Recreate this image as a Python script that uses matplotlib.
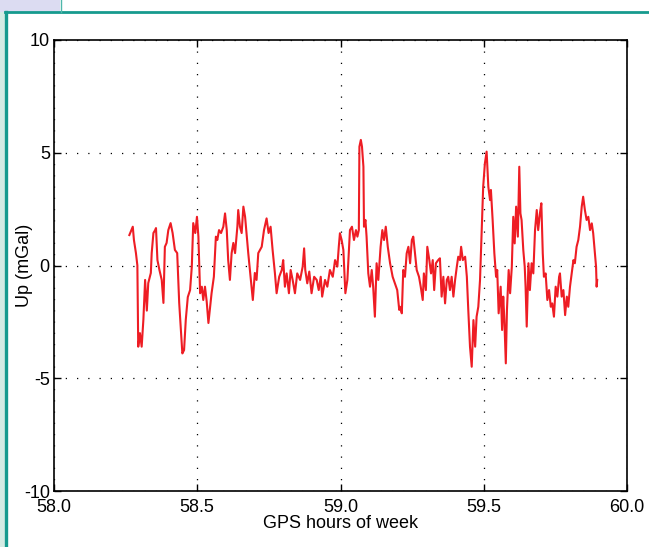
import matplotlib
matplotlib.use("Agg")
import matplotlib.pyplot as plt
from matplotlib.patches import Rectangle
from matplotlib.lines import Line2D
import numpy as np

plt.rcParams['font.family'] = ['Liberation Sans', 'DejaVu Sans']
plt.rcParams['axes.unicode_minus'] = False

# GPS time (hours of week) and vertical gravity disturbance (mGal)
hours = [58.263, 58.275, 58.279, 58.286, 58.291, 58.294, 58.300, 58.306, 58.312, 58.318,
         58.324, 58.329, 58.338, 58.341, 58.347, 58.353, 58.356, 58.361, 58.368, 58.376,
         58.382, 58.387, 58.393, 58.399, 58.407, 58.414, 58.422, 58.430, 58.437, 58.443,
         58.448, 58.454, 58.460, 58.467, 58.475, 58.481, 58.486, 58.493, 58.499, 58.504,
         58.510, 58.516, 58.521, 58.527, 58.533, 58.539, 58.545, 58.550, 58.558, 58.565,
         58.570, 58.576, 58.583, 58.591, 58.597, 58.603, 58.608, 58.614, 58.620, 58.626,
         58.632, 58.640, 58.643, 58.649, 58.655, 58.661, 58.667, 58.673, 58.678, 58.687,
         58.694, 58.701, 58.707, 58.713, 58.725, 58.733, 58.742, 58.749, 58.756, 58.763,
         58.771, 58.777, 58.786, 58.795, 58.800, 58.806, 58.812, 58.820, 58.826, 58.833,
         58.841, 58.849, 58.859, 58.868, 58.873, 58.877, 58.884, 58.891, 58.899, 58.908,
         58.917, 58.924, 58.931, 58.936, 58.946, 58.954, 58.963, 58.973, 58.981, 58.989,
         58.994, 58.998, 59.004, 59.010, 59.017, 59.024, 59.029, 59.033, 59.040, 59.047,
         59.054, 59.059, 59.064, 59.066, 59.071, 59.075, 59.080, 59.082, 59.087, 59.091,
         59.097, 59.103, 59.109, 59.114, 59.120, 59.126, 59.132, 59.140, 59.146, 59.152,
         59.158, 59.165, 59.173, 59.182, 59.190, 59.198, 59.205, 59.208, 59.214, 59.219,
         59.225, 59.231, 59.237, 59.243, 59.249, 59.254, 59.260, 59.266, 59.274, 59.280,
         59.287, 59.291, 59.298, 59.303, 59.310, 59.316, 59.322, 59.327, 59.333, 59.341,
         59.347, 59.353, 59.359, 59.365, 59.371, 59.376, 59.382, 59.388, 59.394, 59.400,
         59.406, 59.411, 59.417, 59.421, 59.427, 59.435, 59.441, 59.446, 59.452, 59.458,
         59.464, 59.470, 59.475, 59.481, 59.487, 59.493, 59.498, 59.504, 59.510, 59.516,
         59.522, 59.525, 59.531, 59.537, 59.543, 59.547, 59.552, 59.559, 59.564, 59.568,
         59.572, 59.577, 59.581, 59.587, 59.592, 59.598, 59.603, 59.608, 59.613, 59.619,
         59.624, 59.628, 59.632, 59.638, 59.643, 59.646, 59.650, 59.656, 59.661, 59.667,
         59.673, 59.679, 59.685, 59.690, 59.696, 59.701, 59.706, 59.710, 59.716, 59.722,
         59.728, 59.734, 59.739, 59.745, 59.751, 59.757, 59.763, 59.766, 59.772, 59.778,
         59.784, 59.790, 59.795, 59.801, 59.807, 59.813, 59.818, 59.824, 59.830, 59.836,
         59.842, 59.847, 59.853, 59.859, 59.865, 59.871, 59.877, 59.882, 59.888, 59.892,
         59.894, 59.896]
up_mgal = [1.35, 1.72, 1.13, 0.55, 0.00, -3.60, -3.00, -3.60, -2.40, -0.64,
           -2.00, -0.78, -0.33, 0.55, 1.44, 1.57, 1.66, 0.24, -0.20, -0.64,
           -1.66, 0.83, 1.00, 1.57, 1.88, 1.44, 0.69, 0.55, -1.66, -2.86,
           -3.90, -3.75, -2.40, -1.40, -1.09, -0.05, 1.88, 1.44, 2.16, 1.28,
           -1.23, -0.94, -1.53, -0.94, -1.60, -2.55, -1.83, -1.23, -0.50, 1.28,
           1.13, 1.57, 1.44, 1.72, 2.31, 1.57, 0.24, -0.64, 0.55, 1.00,
           0.55, 1.72, 2.46, 1.72, 1.44, 2.61, 2.16, 1.28, 0.55, -0.64,
           -1.53, -0.33, -0.64, 0.55, 0.83, 1.57, 2.09, 1.44, 1.72, 0.69,
           -0.33, -1.23, -0.50, -0.20, 0.24, -0.94, -0.35, -1.23, -0.20, -0.64,
           -1.23, -0.35, -0.64, -0.05, 0.76, -0.20, -0.79, -0.27, -1.23, -0.50,
           -0.64, -1.09, -0.50, -1.38, -0.64, -0.94, -0.20, -0.50, 0.24, -0.05,
           0.83, 1.43, 1.13, 0.69, -1.23, -0.64, 0.54, 1.57, 1.72, 1.13,
           1.57, 1.28, 1.57, 5.27, 5.57, 5.27, 4.38, 1.72, 2.02, 1.28,
           -0.35, -0.94, -0.20, -0.94, -2.27, 0.10, -0.64, 0.83, 1.57, 1.13,
           1.72, 0.83, 0.10, -0.50, -0.79, -1.09, -1.97, -1.83, -2.12, -0.20,
           -0.50, 0.54, 0.83, 0.10, 1.13, 1.28, 0.54, -0.20, -0.50, -0.94,
           -1.53, -0.35, -1.09, 0.83, 0.24, -0.35, 0.24, -1.09, 0.10, 0.24,
           0.32, -1.38, -0.50, -1.68, -0.64, -0.50, -1.09, -0.50, -1.38, -0.64,
           -0.05, 0.39, 0.24, 0.83, 0.24, 0.39, -0.50, -1.97, -3.60, -4.49,
           -2.42, -3.60, -2.27, -1.83, -0.64, 1.57, 3.49, 4.53, 5.05, 3.49,
           2.90, 3.35, 2.02, 0.54, -0.50, -0.20, -2.12, -0.94, -2.86, -1.38,
           -2.42, -4.34, -1.97, -0.20, -1.23, -0.05, 2.16, 0.98, 2.61, 1.28,
           4.38, 2.31, 2.02, 0.69, -0.05, -0.94, -2.71, 0.10, -1.09, 0.10,
           -0.35, 1.57, 2.46, 1.57, 2.31, 2.76, 0.54, -0.50, -0.35, -1.53,
           -1.09, -1.83, -1.68, -2.27, -0.94, -1.38, -0.50, -0.35, -1.38, -1.09,
           -2.20, -1.38, -1.83, -0.94, -0.35, 0.24, 0.10, 0.83, 1.13, 1.72,
           2.61, 3.05, 2.46, 2.02, 2.16, 1.57, 1.87, 1.43, 0.54, -0.05,
           -0.94, -0.64]

x_ticks = [58.0, 58.5, 59.0, 59.5, 60.0]
x_tick_labels = ["58.0", "58.5", "59.0", "59.5", "60.0"]
y_ticks = [-10, -5, 0, 5, 10]
y_tick_labels = ["-10", "-5", "0", "5", "10"]

teal = "#169a8e"

fig = plt.figure(figsize=(6.49, 5.47), dpi=100)

# slide decoration behind the plot
fig.patches.append(Rectangle((0, 0), 5 / 649, 535 / 547, transform=fig.transFigure,
                             facecolor="#d4ebe4", edgecolor="none", zorder=0))
fig.patches.append(Rectangle((0, 535 / 547), 60 / 649, 12 / 547, transform=fig.transFigure,
                             facecolor="#dcdcf2", edgecolor="none", zorder=0))
fig.lines.append(Line2D([6 / 649, 6 / 649], [0, 535 / 547], transform=fig.transFigure,
                        color=teal, linewidth=2.4))
fig.lines.append(Line2D([5 / 649, 1], [535 / 547, 535 / 547], transform=fig.transFigure,
                        color=teal, linewidth=2.0))
fig.lines.append(Line2D([61 / 649, 61 / 649], [535 / 547, 1], transform=fig.transFigure,
                        color="#4fb7ab", linewidth=1.0))

ax = fig.add_axes([54 / 649, 1 - 491 / 547, 573 / 649, 451 / 547])
ax.plot(hours, up_mgal, color="#ee1d24", linewidth=1.5)

ax.set_xlim(58.0, 60.0)
ax.set_ylim(-10, 10)
ax.set_xticks(x_ticks)
ax.set_xticklabels(x_tick_labels)
ax.set_yticks(y_ticks)
ax.set_yticklabels(y_tick_labels)
ax.tick_params(direction="in", top=True, right=True, length=5, width=1,
               labelsize=13)
ax.tick_params(axis="x", pad=6)
ax.tick_params(axis="y", pad=3)
ax.grid(True, color="black", linestyle=(0, (1, 8)), linewidth=0.9)
for s in ax.spines.values():
    s.set_linewidth(1.2)

ax.set_xlabel("GPS hours of week", fontsize=13)
ax.xaxis.set_label_coords(0.5, -0.054)
ax.set_ylabel("Up (mGal)", fontsize=13)
ax.yaxis.set_label_coords(-0.037, 0.5)

fig.savefig("out.png", dpi=100)
